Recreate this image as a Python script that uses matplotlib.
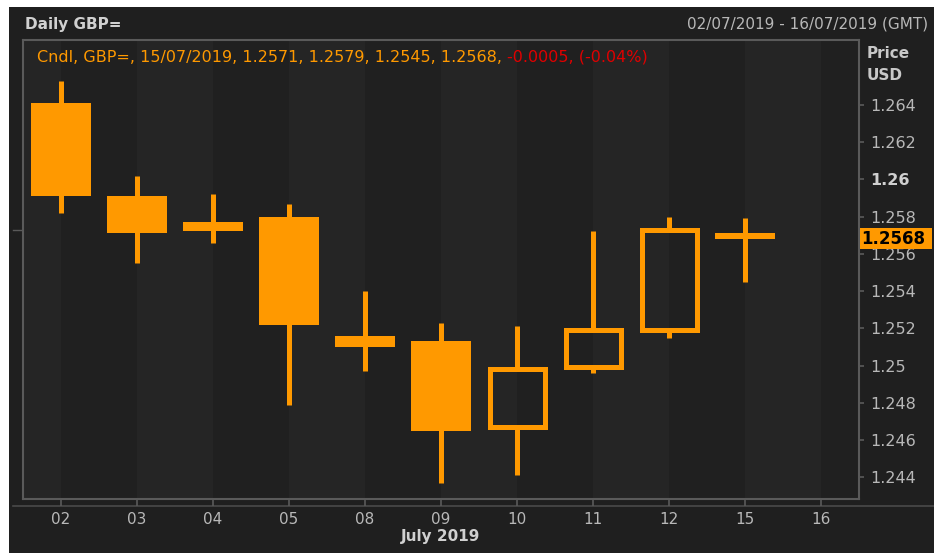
import matplotlib
matplotlib.use("Agg")
import matplotlib.pyplot as plt
from matplotlib.patches import Rectangle
from matplotlib.lines import Line2D
import matplotlib.transforms as mtransforms

plt.rcParams['font.family'] = ['DejaVu Sans']

# ---- data ----
days = ["02", "03", "04", "05", "08", "09", "10", "11", "12", "15", "16"]
opens  = [1.2641, 1.2591, 1.2577, 1.2580, 1.2516, 1.2513, 1.2467, 1.2499, 1.2519, 1.2571]
highs  = [1.2653, 1.2602, 1.2592, 1.2587, 1.2540, 1.2523, 1.2521, 1.2572, 1.2580, 1.2579]
lows   = [1.2582, 1.2555, 1.2566, 1.2479, 1.2497, 1.2437, 1.2441, 1.2496, 1.2515, 1.2545]
closes = [1.2591, 1.2571, 1.2572, 1.2522, 1.2510, 1.2465, 1.2498, 1.2519, 1.2573, 1.2568]
yticks = [1.244, 1.246, 1.248, 1.25, 1.252, 1.254, 1.256, 1.258, 1.26, 1.262, 1.264]
ytick_labels = ["1.244", "1.246", "1.248", "1.25", "1.252", "1.254", "1.256", "1.258", "1.26", "1.262", "1.264"]
title_left = "Daily GBP="
title_right = "02/07/2019 - 16/07/2019 (GMT)"
legend_main = "Cndl, GBP=, 15/07/2019, 1.2571, 1.2579, 1.2545, 1.2568, "
legend_change = "-0.0005, (-0.04%)"
month_label = "July 2019"

ORANGE = "#ff9900"
PANEL = "#1f1f1f"
STRIPE_DARK = "#202020"
STRIPE_LIGHT = "#252525"
GRID_GRAY = "#5a5a5a"
TEXT_GRAY = "#b8b8b8"

W, H = 934, 553
fig = plt.figure(figsize=(W / 100, H / 100), dpi=100)
fig.patch.set_facecolor("white")

def fx(px):
    return px / W

def fy(py):
    return 1 - py / H

# dark panel
fig.patches.append(Rectangle((fx(9), 0), 1 - fx(9), fy(7), transform=fig.transFigure,
                             facecolor=PANEL, edgecolor="none", zorder=-10))

ax = fig.add_axes([fx(23), fy(499), fx(859) - fx(23), fy(40) - fy(499)])
ax.set_zorder(1)
ax.set_facecolor(PANEL)
n = len(days)
ax.set_xlim(-0.5, n - 0.5)
ax.set_ylim(1.242835, 1.26748)

# alternating stripes
ax.axvspan(-0.5, 0, color=STRIPE_LIGHT, lw=0, zorder=0)
for i in range(n - 1):
    ax.axvspan(i, i + 1, color=STRIPE_DARK if i % 2 == 0 else STRIPE_LIGHT, lw=0, zorder=0)
ax.axvspan(n - 1, n - 0.5, color=STRIPE_DARK if (n - 1) % 2 == 0 else STRIPE_LIGHT, lw=0, zorder=0)

# candles
px_per_x = 836 / n
body_w = 60 / px_per_x
lw_px = 5
lw_pt = lw_px * 72 / 100
hollow_w = (60 - lw_px) / px_per_x
for i, (o, h, l, c) in enumerate(zip(opens, highs, lows, closes)):
    if c < o:
        ax.plot([i, i], [l, h], color=ORANGE, lw=lw_pt, solid_capstyle="butt", zorder=3)
        ax.add_patch(Rectangle((i - body_w / 2, c), body_w, o - c, facecolor=ORANGE,
                               edgecolor="none", zorder=4))
    else:
        ax.plot([i, i], [c, h], color=ORANGE, lw=lw_pt, solid_capstyle="butt", zorder=3)
        ax.plot([i, i], [l, o], color=ORANGE, lw=lw_pt, solid_capstyle="butt", zorder=3)
        ax.add_patch(Rectangle((i - hollow_w / 2, o), hollow_w, c - o, facecolor="none",
                               edgecolor=ORANGE, lw=lw_pt, joinstyle="miter", zorder=4))

# axes styling
for s in ax.spines.values():
    s.set_color(GRID_GRAY)
    s.set_linewidth(1.5)

ax.yaxis.tick_right()
ax.set_yticks(yticks)
ax.set_yticklabels(ytick_labels)
ax.tick_params(axis="y", colors=GRID_GRAY, labelcolor=TEXT_GRAY, length=3.5, width=1.2,
               pad=4.5, labelsize=11.5)
for lab in ax.get_yticklabels():
    if lab.get_text() == "1.26":
        lab.set_fontweight("bold")
        lab.set_color("#d0d0d0")

ax.set_xticks(range(n))
ax.set_xticklabels(days)
ax.tick_params(axis="x", colors=GRID_GRAY, labelcolor=TEXT_GRAY, length=5, width=1.2,
               pad=4, labelsize=11)
ax.set_xlabel(month_label, color="#d0d0d0", fontweight="bold", fontsize=11, labelpad=2)

# horizontal separator below plot
fig.add_artist(Line2D([fx(13), 1], [fy(506), fy(506)], transform=fig.transFigure,
                      color="#4a4a4a", lw=1.2, zorder=0))

# previous close marker on the left edge
trans_l = mtransforms.blended_transform_factory(fig.transFigure, ax.transData)
fig.add_artist(Line2D([fx(13), fx(23)], [closes[-2], closes[-2]], transform=trans_l,
                      color=GRID_GRAY, lw=1.0, zorder=0))

# last price tag
trans_r = mtransforms.blended_transform_factory(ax.transAxes, ax.transData)
tag_h = 21 / 18625
ax.add_patch(Rectangle((1.001, closes[-1] - tag_h / 2), 72 / 836, tag_h, transform=trans_r,
                       facecolor=ORANGE, edgecolor="none", clip_on=False, zorder=10))
ax.text(1.003, closes[-1], f"{closes[-1]:.4f}", transform=trans_r, ha="left", va="center",
        fontsize=12, fontweight="bold", color="black", zorder=11, clip_on=False)

# axis unit label
fig.text(fx(867), fy(53), "Price", color="#c8c8c8", fontweight="bold", fontsize=11,
         ha="left", va="center")
fig.text(fx(867), fy(75), "USD", color="#c8c8c8", fontweight="bold", fontsize=11,
         ha="left", va="center")

# header
fig.text(fx(25), fy(24), title_left, color="#d0d0d0", fontweight="bold", fontsize=11,
         ha="left", va="center")
fig.text(fx(928), fy(24), title_right, color=TEXT_GRAY, fontsize=11, ha="right", va="center")
t1 = fig.text(fx(37), fy(57), legend_main, color=ORANGE, fontsize=11.5, ha="left",
              va="center", zorder=5)
ann = fig.add_artist(matplotlib.text.Annotation(
    legend_change, xy=(1, 0.5), xycoords=t1, xytext=(0, 0), textcoords="offset points",
    ha="left", va="center", color="#e00000", fontsize=11.5, annotation_clip=False,
    zorder=5))

fig.savefig("out.png", dpi=100, facecolor=fig.get_facecolor())
